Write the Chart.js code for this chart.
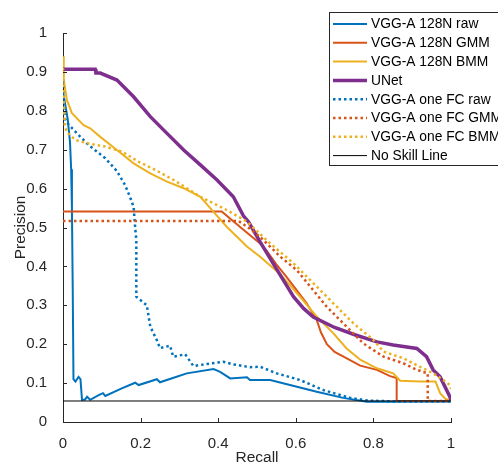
<!DOCTYPE html>
<html lang="en">

<head>
  <meta charset="UTF-8">
  <title>Precision-Recall</title>
  <script src="https://cdn.jsdelivr.net/npm/chart.js"></script>
  <style>
    body { margin: 0; background: #fff; }
    #wrap { width: 498px; height: 467px; }
  </style>
</head>

<body>
  <div id="wrap"><canvas id="prChart" width="498" height="467"></canvas></div>

  <script>
    // Recall / precision pairs
    const rawRecall = [0, 0.005, 0.012, 0.018, 0.021, 0.023, 0.025, 0.027, 0.032, 0.04, 0.045, 0.049, 0.057, 0.062, 0.07, 0.092, 0.103, 0.109, 0.15, 0.186, 0.195, 0.242, 0.25, 0.289, 0.319, 0.388, 0.405, 0.431, 0.474, 0.482, 0.534, 0.585, 0.654, 0.722, 0.783, 0.85, 1];
    const rawPrecision = [0.85, 0.82, 0.78, 0.72, 0.65, 0.55, 0.35, 0.11, 0.104, 0.116, 0.11, 0.057, 0.058, 0.065, 0.057, 0.069, 0.074, 0.067, 0.086, 0.101, 0.095, 0.11, 0.102, 0.115, 0.125, 0.136, 0.129, 0.112, 0.115, 0.108, 0.108, 0.095, 0.078, 0.062, 0.052, 0.052, 0.053];

    const gmmRecall = [0, 0.409, 0.465, 0.508, 0.525, 0.55, 0.577, 0.628, 0.654, 0.665, 0.68, 0.7, 0.723, 0.766, 0.809, 0.843, 0.86, 0.86, 1];
    const gmmPrecision = [0.541, 0.541, 0.494, 0.459, 0.44, 0.405, 0.372, 0.305, 0.262, 0.23, 0.2, 0.18, 0.168, 0.145, 0.134, 0.118, 0.113, 0.054, 0.054];

    const bmmRecall = [0, 0.002, 0.01, 0.023, 0.053, 0.07, 0.096, 0.139, 0.182, 0.225, 0.268, 0.311, 0.354, 0.388, 0.422, 0.474, 0.508, 0.56, 0.611, 0.654, 0.697, 0.731, 0.766, 0.809, 0.851, 0.869, 0.92, 0.96, 0.972, 0.985, 1];
    const bmmPrecision = [0.94, 0.88, 0.828, 0.794, 0.763, 0.755, 0.733, 0.699, 0.665, 0.639, 0.618, 0.601, 0.579, 0.54, 0.502, 0.451, 0.425, 0.38, 0.322, 0.271, 0.228, 0.189, 0.16, 0.138, 0.125, 0.106, 0.104, 0.104, 0.074, 0.06, 0.054];

    const unetRecall = [0, 0.083, 0.085, 0.096, 0.139, 0.182, 0.225, 0.268, 0.311, 0.354, 0.397, 0.439, 0.465, 0.478, 0.508, 0.547, 0.594, 0.62, 0.645, 0.7, 0.75, 0.809, 0.851, 0.912, 0.937, 0.954, 0.972, 0.997, 1];
    const unetPrecision = [0.907, 0.907, 0.897, 0.897, 0.879, 0.836, 0.785, 0.742, 0.699, 0.661, 0.622, 0.579, 0.53, 0.515, 0.463, 0.399, 0.322, 0.292, 0.27, 0.243, 0.225, 0.206, 0.198, 0.189, 0.168, 0.134, 0.116, 0.065, 0.055];

    const fcRawRecall = [0, 0.002, 0.005, 0.01, 0.019, 0.04, 0.066, 0.109, 0.139, 0.16, 0.172, 0.182, 0.186, 0.189, 0.189, 0.216, 0.225, 0.242, 0.25, 0.276, 0.284, 0.315, 0.336, 0.371, 0.413, 0.439, 0.482, 0.508, 0.551, 0.611, 0.671, 0.74, 0.786, 0.85, 1];
    const fcRawPrecision = [0.88, 0.82, 0.78, 0.77, 0.76, 0.738, 0.712, 0.678, 0.645, 0.609, 0.58, 0.553, 0.5, 0.468, 0.322, 0.30, 0.245, 0.21, 0.19, 0.196, 0.168, 0.174, 0.144, 0.149, 0.155, 0.148, 0.141, 0.142, 0.125, 0.108, 0.082, 0.062, 0.055, 0.053, 0.053];

    const fcGmmRecall = [0, 0.452, 0.48, 0.508, 0.56, 0.603, 0.68, 0.731, 0.774, 0.826, 0.877, 0.912, 0.94, 0.94, 1];
    const fcGmmPrecision = [0.517, 0.517, 0.498, 0.476, 0.425, 0.39, 0.296, 0.245, 0.202, 0.168, 0.151, 0.134, 0.125, 0.054, 0.054];

    const fcBmmRecall = [0, 0.002, 0.005, 0.01, 0.032, 0.066, 0.109, 0.152, 0.195, 0.238, 0.289, 0.354, 0.422, 0.474, 0.534, 0.594, 0.68, 0.748, 0.8, 0.826, 0.877, 0.92, 0.954, 0.98, 0.997, 1];
    const fcBmmPrecision = [0.91, 0.82, 0.76, 0.745, 0.725, 0.716, 0.708, 0.695, 0.669, 0.648, 0.62, 0.579, 0.545, 0.515, 0.459, 0.408, 0.322, 0.254, 0.211, 0.181, 0.164, 0.142, 0.125, 0.108, 0.095, 0.085];

    const noSkillRecall = [0, 1];
    const noSkillPrecision = [0.054, 0.054];

    const seriesLabels = ['VGG-A 128N raw', 'VGG-A 128N GMM', 'VGG-A 128N BMM', 'UNet',
      'VGG-A one FC raw', 'VGG-A one FC GMM', 'VGG-A one FC BMM', 'No Skill Line'];
    const xTickValues = [0, 0.2, 0.4, 0.6, 0.8, 1];
    const yTickValues = [0, 0.1, 0.2, 0.3, 0.4, 0.5, 0.6, 0.7, 0.8, 0.9, 1];

    const FONT = '"Liberation Sans", Arial, sans-serif';
    const AXIS = '#262626';

    function pairs(xs, ys) {
      return xs.map((x, i) => ({ x: x, y: ys[i] }));
    }

    const styles = [
      { color: '#0072BD', width: 2, dash: [] },
      { color: '#D95319', width: 2, dash: [] },
      { color: '#EDB120', width: 2, dash: [] },
      { color: '#7E2F8E', width: 3.5, dash: [] },
      { color: '#0072BD', width: 2.5, dash: [2.5, 3] },
      { color: '#D95319', width: 2.5, dash: [2.5, 3] },
      { color: '#EDB120', width: 2.5, dash: [2.5, 3] },
      { color: '#000000', width: 1, dash: [] }
    ];
    const series = [
      pairs(rawRecall, rawPrecision),
      pairs(gmmRecall, gmmPrecision),
      pairs(bmmRecall, bmmPrecision),
      pairs(unetRecall, unetPrecision),
      pairs(fcRawRecall, fcRawPrecision),
      pairs(fcGmmRecall, fcGmmPrecision),
      pairs(fcBmmRecall, fcBmmPrecision),
      pairs(noSkillRecall, noSkillPrecision)
    ];

    const datasets = series.map((data, i) => ({
      label: seriesLabels[i],
      data: data,
      showLine: true,
      borderColor: styles[i].color,
      backgroundColor: styles[i].color,
      borderWidth: styles[i].width,
      borderDash: styles[i].dash,
      pointRadius: 0,
      tension: 0,
      fill: false,
      order: series.length - i   // later series drawn on top, like MATLAB
    }));

    // MATLAB-style inward tick marks
    const innerTicks = {
      id: 'innerTicks',
      afterDraw(chart) {
        const { ctx, chartArea } = chart;
        const xs = chart.scales.x, ys = chart.scales.y;
        ctx.save();
        ctx.strokeStyle = AXIS;
        ctx.lineWidth = 1;
        ctx.beginPath();
        xTickValues.forEach(v => {
          const px = Math.round(xs.getPixelForValue(v)) + 0.5;
          ctx.moveTo(px, chartArea.bottom);
          ctx.lineTo(px, chartArea.bottom - 4);
        });
        yTickValues.forEach(v => {
          const py = Math.round(ys.getPixelForValue(v)) + 0.5;
          ctx.moveTo(chartArea.left, py);
          ctx.lineTo(chartArea.left + 4, py);
        });
        ctx.stroke();
        ctx.restore();
      }
    };

    // legend box in the upper right, running off the figure edge
    const legendBox = {
      id: 'legendBox',
      afterDraw(chart) {
        const ctx = chart.ctx;
        const x0 = 329.5, y0 = 12.5, rowH = 18.8;
        ctx.save();
        ctx.fillStyle = '#fff';
        ctx.fillRect(x0, y0, 200, 153);
        ctx.strokeStyle = AXIS;
        ctx.lineWidth = 1;
        ctx.strokeRect(x0, y0, 200, 153);
        ctx.font = '13.8px ' + FONT;
        ctx.textBaseline = 'middle';
        chart.data.datasets.forEach((ds, i) => {
          const y = 24 + i * rowH;
          ctx.beginPath();
          ctx.setLineDash(ds.borderDash);
          ctx.lineWidth = ds.borderWidth;
          ctx.strokeStyle = ds.borderColor;
          ctx.moveTo(333, y);
          ctx.lineTo(367, y);
          ctx.stroke();
          ctx.setLineDash([]);
          ctx.fillStyle = '#000';
          ctx.fillText(ds.label, 371, y + 0.5);
        });
        ctx.restore();
      }
    };

    new Chart(document.getElementById('prChart'), {
      type: 'scatter',
      data: { datasets: datasets },
      plugins: [innerTicks, legendBox],
      options: {
        responsive: false,
        animation: false,
        layout: { padding: { top: 33, right: 47, left: 0, bottom: 0 } },
        plugins: {
          legend: { display: false },
          tooltip: { enabled: false }
        },
        scales: {
          x: {
            type: 'linear',
            min: 0,
            max: 1,
            afterFit: s => { s.height = 45; },
            afterBuildTicks: s => { s.ticks = xTickValues.map(v => ({ value: v })); },
            grid: { display: false },
            border: { display: true, color: AXIS, width: 1 },
            ticks: {
              padding: 5,
              color: AXIS,
              font: { family: FONT, size: 15 },
              maxRotation: 0,
              callback: v => String(+v.toFixed(1))
            },
            title: {
              display: true,
              text: 'Recall',
              color: AXIS,
              font: { family: FONT, size: 15.5 },
              padding: { top: 0, bottom: 0 }
            }
          },
          y: {
            type: 'linear',
            min: 0,
            max: 1,
            afterFit: s => { s.width = 63; },
            afterBuildTicks: s => { s.ticks = yTickValues.map(v => ({ value: v })); },
            grid: { display: false },
            border: { display: true, color: AXIS, width: 1 },
            ticks: {
              padding: 8,
              color: AXIS,
              font: { family: FONT, size: 15 },
              callback: v => String(+v.toFixed(1))
            },
            title: {
              display: true,
              text: 'Precision',
              color: AXIS,
              font: { family: FONT, size: 15.5 },
              padding: { top: 11, bottom: 0 }
            }
          }
        }
      }
    });
  </script>
</body>

</html>
